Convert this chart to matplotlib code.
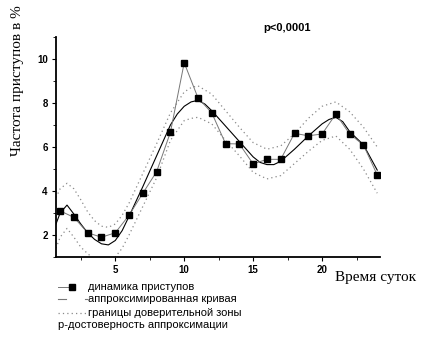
import numpy as np
import matplotlib.pyplot as plt
from matplotlib.lines import Line2D

# hourly attack frequency, %
hours = np.arange(1, 25)
freq = [3.1, 2.8, 2.1, 1.9, 2.1, 2.9, 3.9, 4.88, 6.67, 9.83, 8.23, 7.55,
        6.15, 6.14, 5.23, 5.44, 5.44, 6.62, 6.51, 6.59, 7.5, 6.59, 6.09, 4.73]

# approximating curve
fit_x = [0.7, 1, 1.5, 2, 2.5, 3, 3.5, 4, 4.5, 5, 5.5, 6, 7, 8, 9, 9.5, 10,
         10.5, 11, 11.5, 12, 13, 14, 15, 15.5, 16, 16.5, 17, 18, 19, 20,
         20.5, 21, 21.5, 22, 23, 24]
fit_y = [2.5, 3.0, 3.36, 2.95, 2.5, 2.1, 1.8, 1.6, 1.55, 1.75, 2.2, 2.85,
         4.2, 5.6, 7.0, 7.5, 7.85, 8.05, 8.12, 7.95, 7.65, 6.95, 6.25, 5.55,
         5.3, 5.2, 5.2, 5.35, 5.9, 6.5, 7.05, 7.25, 7.35, 7.15, 6.7, 6.1, 4.95]

# confidence band
band_x = [0.7, 1, 1.5, 2, 2.5, 3, 3.5, 4, 4.5, 5, 5.5, 6, 7, 8, 9, 10,
          10.5, 11, 12, 13, 14, 15, 16, 17, 18, 19, 20, 21, 22, 23, 24]
upper = [3.7, 4.1, 4.35, 4.1, 3.6, 3.05, 2.65, 2.4, 2.35, 2.5, 2.9, 3.45,
         4.8, 6.15, 7.55, 8.5, 8.7, 8.78, 8.4, 7.65, 6.9, 6.2, 5.9, 6.05,
         6.6, 7.3, 7.85, 8.05, 7.6, 6.9, 6.0]
lower = [1.4, 1.9, 2.3, 1.9, 1.45, 1.15, 0.9, 0.75, 0.75, 1.0, 1.4, 2.0,
         3.3, 4.6, 6.3, 7.2, 7.3, 7.35, 7.05, 6.3, 5.6, 4.85, 4.55, 4.7,
         5.25, 5.8, 6.3, 6.5, 5.9, 5.0, 3.9]

sans = 'Liberation Sans'
serif = 'Liberation Serif'
dots = (0, (1, 2.5))
band_col = '#8a8a8a'

fig = plt.figure(figsize=(4.32, 3.38), dpi=100)
ax = fig.add_axes([0.1296, 0.2396, 0.75, 0.651])

ax.plot(band_x, upper, color=band_col, lw=0.9, ls=dots)
ax.plot(band_x, lower, color=band_col, lw=0.9, ls=dots)
ax.plot(fit_x, fit_y, color='black', lw=0.8)
ax.plot(hours, freq, color='#777777', lw=0.7, marker='s', ms=4.5,
        mfc='black', mec='black')

ax.set_xlim(0.7, 24.2)
ax.set_ylim(1, 11)
ax.set_xticks([5, 10, 15, 20])
ax.set_xticks([2.5, 7.5, 12.5, 17.5, 22.5], minor=True)
ax.set_yticks([2, 4, 6, 8, 10])
ax.set_yticks([1, 3, 5, 7, 9, 11], minor=True)
ax.tick_params(which='major', direction='out', length=3, width=0.8,
               labelsize=7, pad=3)
ax.tick_params(which='minor', direction='out', length=2, width=0.6)
for lab in ax.get_xticklabels() + ax.get_yticklabels():
    lab.set_family(sans)
    lab.set_weight('bold')

for side in ('top', 'right'):
    ax.spines[side].set_visible(False)
for side in ('left', 'bottom'):
    ax.spines[side].set_linewidth(1.3)

ax.set_ylabel('Частота приступов в %', family=serif, fontsize=11)
ax.yaxis.set_label_coords(-0.1, 0.8)
fig.text(0.775, 0.178, 'Время суток', family=serif, fontsize=11,
         va='center')
fig.text(0.609, 0.917, 'p<0,0001', family=sans, fontsize=8,
         weight='bold', va='center')

# legend under the axes
rows = [0.152, 0.116, 0.074]
fig.add_artist(Line2D([0.134, 0.158], [rows[0]] * 2, color='#777777',
                      lw=0.7, transform=fig.transFigure))
fig.add_artist(Line2D([0.167], [rows[0]], marker='s', ms=4.5, color='black',
                      transform=fig.transFigure))
fig.add_artist(Line2D([0.134, 0.153], [rows[1]] * 2, color='#777777',
                      lw=0.8, transform=fig.transFigure))
fig.add_artist(Line2D([0.197, 0.202], [rows[1]] * 2, color='#777777',
                      lw=0.8, transform=fig.transFigure))
fig.add_artist(Line2D([0.134, 0.203], [rows[2]] * 2, color=band_col,
                      lw=0.9, ls=dots, transform=fig.transFigure))

labels = ['динамика приступов', 'аппроксимированная кривая',
          'границы доверительной зоны']
for y, txt in zip(rows, labels):
    fig.text(0.204, y, txt, family=sans, fontsize=8, va='center')
fig.text(0.134, 0.037, 'р-достоверность аппроксимации', family=sans,
         fontsize=8, va='center')

plt.savefig('out.png', dpi=100)
plt.close()
